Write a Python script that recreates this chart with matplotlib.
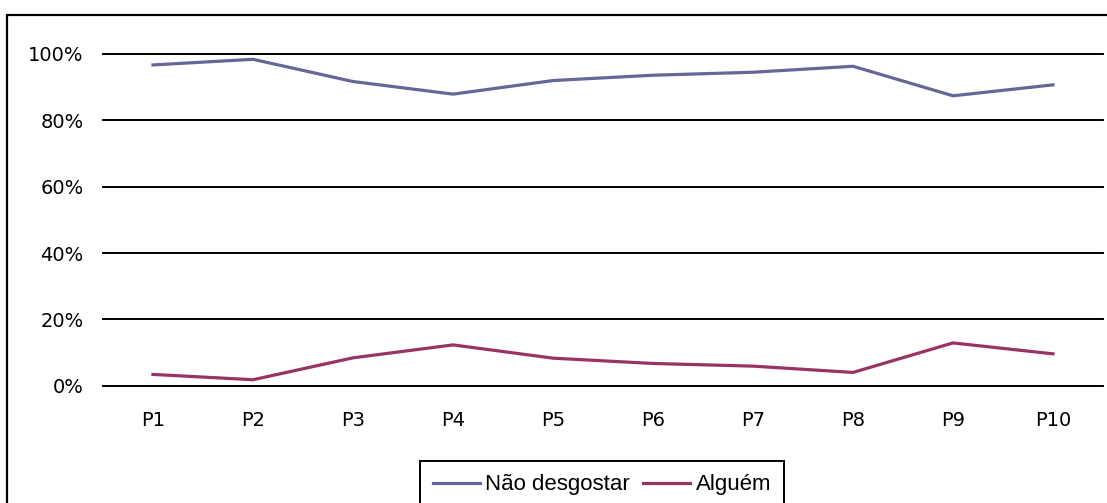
import numpy as np
import matplotlib.pyplot as plt
from matplotlib.patches import Rectangle

categories = ['P1', 'P2', 'P3', 'P4', 'P5', 'P6', 'P7', 'P8', 'P9', 'P10']
nao_desgostar = [96.7, 98.4, 91.7, 87.9, 92.0, 93.6, 94.5, 96.3, 87.4, 90.7]
alguem = [3.4, 1.8, 8.4, 12.3, 8.3, 6.7, 5.9, 4.0, 12.9, 9.6]
y_ticks = [0, 20, 40, 60, 80, 100]

fig = plt.figure(figsize=(11.07, 5.03), dpi=100)

# outer chart frame (cut off at the right and bottom edge like the original)
frame = Rectangle((7 / 1107, -0.1), 1.2, 1 - 15 / 503 + 0.1, transform=fig.transFigure,
                  fill=False, edgecolor='black', linewidth=1.6, clip_on=False)
fig.patches.append(frame)

ax = fig.add_axes([103 / 1107, 1 - 385.7 / 503, 1000 / 1107, 331.7 / 503])
x = np.arange(len(categories))
ax.plot(x, nao_desgostar, color='#666699', linewidth=2.3, label='Não desgostar')
ax.plot(x, alguem, color='#993366', linewidth=2.3, label='Alguém')

ax.set_xlim(-0.5, len(categories) - 0.5)
ax.set_ylim(0, 100)
ax.set_xticks(x)
ax.set_xticklabels(categories)
ax.set_yticks(y_ticks)
ax.set_yticklabels([f'{t}%' for t in y_ticks])
ax.tick_params(length=0, labelsize=14, colors='black')
ax.tick_params(axis='x', pad=18)
ax.tick_params(axis='y', pad=14)
for s in ax.spines.values():
    s.set_visible(False)
for t in y_ticks:
    ax.axhline(t, color='black', linewidth=1.4, zorder=0, clip_on=False)

leg = fig.legend(loc='upper center', bbox_to_anchor=(602 / 1107, 1 - 461 / 503), ncol=2,
                 prop={'family': 'Liberation Sans', 'size': 16}, fancybox=False,
                 edgecolor='black', framealpha=1, borderpad=0.6, handlelength=2.1,
                 handletextpad=0.25, columnspacing=0.6, borderaxespad=0)
leg.get_frame().set_linewidth(1.4)

fig.savefig('out.png', dpi=100)
